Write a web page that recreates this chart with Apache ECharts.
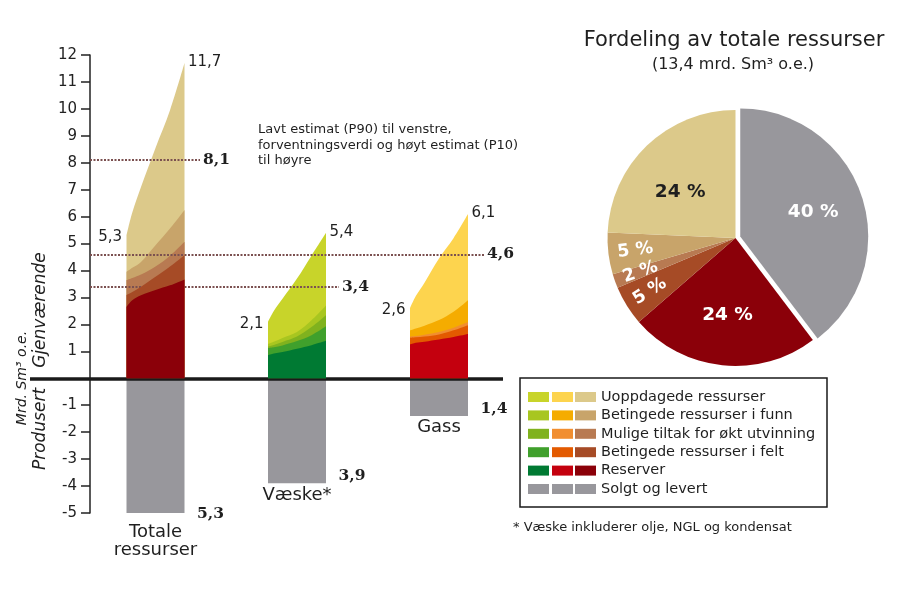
<!DOCTYPE html>
<html>
<head>
<meta charset="utf-8">
<script src="https://cdn.jsdelivr.net/npm/echarts@6/dist/echarts.min.js"></script>
<style>
html,body{margin:0;padding:0;background:#fff;}
#chart{width:914px;height:597px;}
</style>
</head>
<body>
<div id="chart"></div>
<script>
// ---------------- DATA ----------------
const groupNames = ['Totale\nressurser', 'Væske*', 'Gass'];
const layerNames = ['Uoppdagede ressurser', 'Betingede ressurser i funn', 'Mulige tiltak for økt utvinning', 'Betingede ressurser i felt', 'Reserver'];
const soldName = 'Solgt og levert';

// positions across each fan, 0 = low estimate (P90), 1 = high estimate (P10)
const estimateFractions = [0, 0.1, 0.25, 0.5, 0.75, 1];

// cumulative upper boundary of each category (mrd. Sm3 o.e.)
const totaleUoppdagede = [5.3, 6.15, 7.1, 8.55, 9.95, 11.7];
const totaleFunn       = [3.95, 4.1, 4.32, 4.94, 5.56, 6.25];
const totaleTiltak     = [3.64, 3.72, 3.85, 4.15, 4.55, 5.07];
const totaleFelt       = [3.09, 3.2, 3.4, 3.77, 4.15, 4.57];
const totaleReserver   = [2.65, 2.9, 3.08, 3.28, 3.45, 3.67];

const vaeskeUoppdagede = [2.1, 2.5, 2.95, 3.7, 4.55, 5.4];
const vaeskeFunn       = [1.28, 1.36, 1.5, 1.72, 2.15, 2.7];
const vaeskeTiltak     = [1.18, 1.24, 1.35, 1.55, 1.9, 2.34];
const vaeskeFelt       = [1.12, 1.15, 1.22, 1.38, 1.6, 1.93];
const vaeskeReserver   = [0.86, 0.92, 0.98, 1.1, 1.23, 1.39];

const gassUoppdagede = [2.6, 3.05, 3.55, 4.45, 5.2, 6.1];
const gassFunn       = [1.78, 1.85, 1.95, 2.16, 2.47, 2.9];
const gassTiltak     = [1.55, 1.57, 1.62, 1.72, 1.88, 2.09];
const gassFelt       = [1.5, 1.52, 1.55, 1.63, 1.78, 1.97];
const gassReserver   = [1.26, 1.32, 1.36, 1.44, 1.53, 1.64];

const soldValues = [-5.3, -3.9, -1.4];
const expectedValues = [8.1, 3.4, 4.6];

const pieNames  = ['Solgt og levert', 'Reserver', 'Betingede ressurser i felt', 'Mulige tiltak for økt utvinning', 'Betingede ressurser i funn', 'Uoppdagede ressurser'];
const pieValues = [5.3, 3.2, 0.67, 0.24, 0.7, 3.25];

const legendNames = ['Uoppdagede ressurser', 'Betingede ressurser i funn', 'Mulige tiltak for økt utvinning', 'Betingede ressurser i felt', 'Reserver', 'Solgt og levert'];

const pieTitle = 'Fordeling av totale ressurser';
const pieSubtitle = '(13,4 mrd. Sm³ o.e.)';
const noteText = 'Lavt estimat (P90) til venstre,\nforventningsverdi og høyt estimat (P10)\ntil høyre';
const footnote = '* Væske inkluderer olje, NGL og kondensat';

const fanData = [
  [totaleUoppdagede, totaleFunn, totaleTiltak, totaleFelt, totaleReserver],
  [vaeskeUoppdagede, vaeskeFunn, vaeskeTiltak, vaeskeFelt, vaeskeReserver],
  [gassUoppdagede, gassFunn, gassTiltak, gassFelt, gassReserver]
];

// ---------------- LAYOUT & STYLE ----------------
const X_MAX = 413;                        // x-axis units from the y axis
const groupLeft = [36.5, 178, 320];
const groupWidth = 58;
const guideEnd = [110, 249, 394];
const tanPal   = ['#DCC98A', '#C8A46A', '#B87A52', '#A64B26', '#8B0009'];
const greenPal = ['#C8D42A', '#A8C620', '#80B21E', '#40A02C', '#007A33'];
const gasPal   = ['#FDD44E', '#F5AC00', '#F18E30', '#E35A00', '#C4000E'];
const grey = '#98979C';
const groupPalettes = [tanPal, greenPal, gasPal];
const pieColors = [grey, tanPal[4], tanPal[3], tanPal[2], tanPal[1], tanPal[0]];
const FONT = 'DejaVu Sans';
const SERIF = 'DejaVu Serif';
const TXT = '#1f1f1f';

const fmt = v => Math.abs(v).toFixed(1).replace('.', ',');

const series = [];

// dotted guide lines to expected values
series.push({
  type: 'line', name: 'guides', data: [], z: 1, silent: true,
  markLine: {
    silent: true, animation: false, symbol: ['none', 'none'],
    lineStyle: { color: '#7B5050', width: 2, type: [2, 1.5] },
    label: { show: true, position: 'end', distance: 3, fontFamily: SERIF, fontWeight: 'bold', fontSize: 15.5, color: TXT },
    data: expectedValues.map((v, i) => [
      { coord: [0, v], label: { formatter: fmt(v) } },
      { coord: [guideEnd[i], v] }
    ])
  }
});

// fans
fanData.forEach((layers, g) => {
  layers.forEach((vals, l) => {
    series.push({
      type: 'line', name: layerNames[l], z: 2 + l, silent: true,
      symbol: 'none', showSymbol: false, smooth: 0.35,
      lineStyle: { width: 0, opacity: 0 },
      areaStyle: { color: groupPalettes[g][l], opacity: 1 },
      data: estimateFractions.map((f, k) => [groupLeft[g] + f * groupWidth, vals[k]])
    });
  });
});

// sold bars
soldValues.forEach((v, g) => {
  series.push({
    type: 'line', name: soldName, z: 2, silent: true,
    symbol: 'none', showSymbol: false,
    lineStyle: { width: 0, opacity: 0 },
    areaStyle: { color: grey, opacity: 1 },
    data: [[groupLeft[g], v], [groupLeft[g] + groupWidth, v]]
  });
});

// baseline (in a wider second grid so it reaches left of the axis)
series.push({
  type: 'line', name: 'baseline', data: [], z: 10, silent: true, xAxisIndex: 1, yAxisIndex: 1,
  markLine: {
    silent: true, animation: false, symbol: ['none', 'none'],
    label: { show: false },
    lineStyle: { color: '#1a1a1a', width: 3.5, type: 'solid' },
    data: [{ yAxis: 0 }]
  }
});

// labels
const labelItems = [];
fanData.forEach((layers, g) => {
  const top = layers[0];
  labelItems.push({ value: [groupLeft[g], top[0]], label: { show: true, position: 'left', distance: 4, offset: [0, 2], formatter: fmt(top[0]), fontFamily: FONT, fontSize: 15, color: TXT } });
  labelItems.push({ value: [groupLeft[g] + groupWidth, top[top.length - 1]], label: { show: true, position: 'right', distance: 3, offset: [0, -1], formatter: fmt(top[top.length - 1]), fontFamily: FONT, fontSize: 15, color: TXT } });
});
soldValues.forEach((v, g) => {
  labelItems.push({ value: [groupLeft[g] + groupWidth, v], label: { show: true, position: 'right', distance: 12, offset: [0, -7], formatter: fmt(v), fontFamily: SERIF, fontWeight: 'bold', fontSize: 15.5, color: TXT } });
  labelItems.push({ value: [groupLeft[g] + groupWidth / 2, v], label: { show: true, position: 'bottom', distance: 2, formatter: groupNames[g], fontFamily: FONT, fontSize: 18, lineHeight: 18, color: TXT, align: 'center' } });
});
series.push({ type: 'scatter', name: 'labels', z: 12, silent: true, clip: false, symbolSize: 1, itemStyle: { color: 'rgba(0,0,0,0)', opacity: 1 }, data: labelItems });

// pies
const pieCenter = [735.5, 238];
series.push({
  type: 'pie', name: 'pie', center: pieCenter, radius: 128, silent: true, avoidLabelOverlap: false,
  selectedMode: 'single', selectedOffset: 5, label: { show: false }, labelLine: { show: false },
  data: pieNames.map((n, i) => ({ name: n, value: pieValues[i], selected: i === 0, itemStyle: { color: pieColors[i] } }))
});
const bigOffsets = { 0: [-2, 5], 1: [0, 1], 5: [-2, 10] };
const bigLabel = (i) => ({ show: true, position: 'inside', offset: bigOffsets[i], formatter: p => Math.round(p.percent) + ' %', fontFamily: FONT, fontWeight: 'bold', fontSize: 18.5, color: i === 5 ? TXT : '#ffffff' });
series.push({
  type: 'pie', name: 'pieLabelsBig', center: pieCenter, radius: [20, 128], silent: true, avoidLabelOverlap: false,
  selectedMode: 'single', selectedOffset: 5, labelLine: { show: false }, minShowLabelAngle: 0,
  labelLayout: { hideOverlap: false },
  data: pieNames.map((n, i) => ({ name: n, value: pieValues[i], selected: i === 0, itemStyle: { color: 'rgba(0,0,0,0)' },
    label: (i === 0 || i === 1 || i === 5) ? bigLabel(i) : { show: false } }))
});
series.push({
  type: 'pie', name: 'pieLabelsSmall', center: pieCenter, radius: [68, 128], silent: true, avoidLabelOverlap: false,
  selectedMode: 'single', selectedOffset: 5, labelLine: { show: false }, minShowLabelAngle: 0,
  labelLayout: { hideOverlap: false },
  data: pieNames.map((n, i) => ({ name: n, value: pieValues[i], selected: i === 0, itemStyle: { color: 'rgba(0,0,0,0)' },
    label: (i >= 2 && i <= 4) ? { show: true, position: 'inside', rotate: 'radial', formatter: p => Math.round(p.percent) + ' %', fontFamily: FONT, fontWeight: 'bold', fontSize: 17.5, color: '#ffffff' } : { show: false } }))
});

function mkLegend(left, colors, showText) {
  return {
    orient: 'vertical', left: left, top: 389, padding: 0,
    itemWidth: 21, itemHeight: 10, itemGap: 2.4, icon: 'rect', selectedMode: false,
    textStyle: { fontFamily: FONT, fontSize: 14.5, lineHeight: 16, color: showText ? TXT : 'rgba(0,0,0,0)' },
    data: legendNames.map((n, i) => ({ name: n, icon: 'rect', itemStyle: { color: colors[i], borderWidth: 0, opacity: 1 } }))
  };
}
const legendCols = [greenPal.concat([grey]), gasPal.concat([grey]), tanPal.concat([grey])];

const option = {
  animation: false,
  backgroundColor: '#ffffff',
  grid: [
    { left: 90, right: 411, top: 55, bottom: 84, containLabel: false, outerBoundsMode: 'none' },
    { left: 30, right: 411, top: 55, bottom: 84, containLabel: false, outerBoundsMode: 'none' }
  ],
  xAxis: [
    { type: 'value', gridIndex: 0, min: 0, max: X_MAX, show: false },
    { type: 'value', gridIndex: 1, min: 0, max: 1, show: false }
  ],
  yAxis: [
    {
      type: 'value', gridIndex: 0, min: -5, max: 12, interval: 1,
      axisLine: { show: true, onZero: false, lineStyle: { color: '#222', width: 1.5 } },
      axisTick: { show: true, length: 9, lineStyle: { color: '#222', width: 1.5 } },
      axisLabel: { margin: 13, fontFamily: FONT, fontSize: 15, color: '#222', formatter: v => (v === 0 ? '' : String(v)) },
      splitLine: { show: false }
    },
    { type: 'value', gridIndex: 1, min: -5, max: 12, interval: 1, show: false }
  ],
  legend: [mkLegend(528, legendCols[0], false), mkLegend(552, legendCols[1], false), mkLegend(575, legendCols[2], true)],
  graphic: [
    { type: 'rect', shape: { x: 520, y: 378, width: 307, height: 129 }, style: { fill: 'none', stroke: '#1a1a1a', lineWidth: 1.5 }, silent: true },
    { type: 'text', x: 734, y: 41, style: { text: pieTitle, fontFamily: FONT, fontSize: 21, fill: TXT, textAlign: 'center', textVerticalAlign: 'middle' } },
    { type: 'text', x: 733, y: 65, style: { text: pieSubtitle, fontFamily: FONT, fontSize: 16, fill: TXT, textAlign: 'center', textVerticalAlign: 'middle' } },
    { type: 'text', x: 258, y: 122, style: { text: noteText, fontFamily: FONT, fontSize: 13, lineHeight: 15.5, fill: TXT, textAlign: 'left', textVerticalAlign: 'top' } },
    { type: 'text', x: 513, y: 528, style: { text: footnote, fontFamily: FONT, fontSize: 13, fill: TXT, textAlign: 'left', textVerticalAlign: 'middle' } },
    { type: 'text', x: 22, y: 378, rotation: Math.PI / 2, style: { text: 'Mrd. Sm³ o.e.', fontFamily: FONT, fontStyle: 'italic', fontSize: 14, fill: TXT, textAlign: 'center', textVerticalAlign: 'middle' } },
    { type: 'text', x: 41, y: 310, rotation: Math.PI / 2, style: { text: 'Gjenværende', fontFamily: FONT, fontStyle: 'italic', fontSize: 17, fill: TXT, textAlign: 'center', textVerticalAlign: 'middle' } },
    { type: 'text', x: 41, y: 429, rotation: Math.PI / 2, style: { text: 'Produsert', fontFamily: FONT, fontStyle: 'italic', fontSize: 17, fill: TXT, textAlign: 'center', textVerticalAlign: 'middle' } }
  ],
  series: series
};

const chart = echarts.init(document.getElementById('chart'), null, { renderer: 'canvas' });
chart.setOption(option);
</script>
</body>
</html>
